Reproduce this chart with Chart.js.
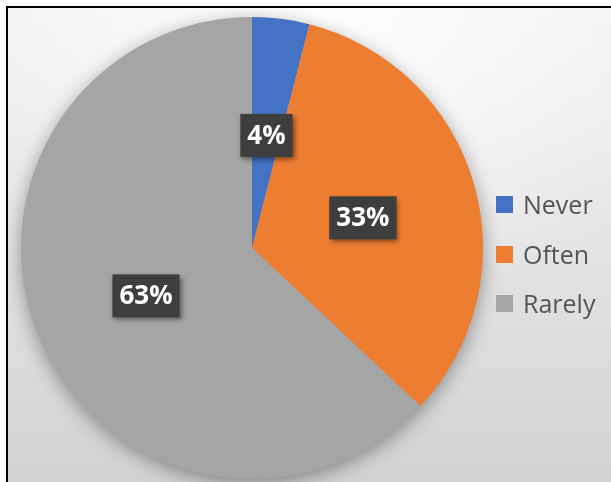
<!DOCTYPE html>
<html>
<head>
<meta charset="utf-8">
<script src="https://cdn.jsdelivr.net/npm/chart.js@4"></script>
<style>
  html, body { margin: 0; padding: 0; }
  body { width: 611px; height: 482px; overflow: hidden; background: #fff; position: relative; }
  .frame {
    position: absolute; left: 6px; top: 6px; right: -4px; bottom: -4px;
    border-left: 2px solid #000; border-top: 2px solid #000;
    background:
      radial-gradient(ellipse 70% 60% at 52% 2%, rgba(255,255,255,0.95) 0%, rgba(255,255,255,0) 100%),
      linear-gradient(#f0f0f0 0%, #e4e4e4 50%, #d2d2d2 100%);
  }
  #wrap { position: absolute; left: 0; top: 0; width: 611px; height: 482px; }
  #legend { position: absolute; left: 496px; top: 0; font-family: "Open Sans", sans-serif; }
  #legend .item { position: absolute; left: 0; height: 30px; display: flex; align-items: center; white-space: nowrap; }
  #legend .box { width: 17px; height: 17px; margin-right: 10px; }
  #legend .txt { font-size: 25px; color: #555555; line-height: 30px; }
</style>
</head>
<body>
<div class="frame"></div>
<div id="wrap"><canvas id="pieChart" width="611" height="482"></canvas></div>
<div id="legend"></div>

<script>
// --- DATA --- //
const categories = ["Never", "Often", "Rarely"];
const shares = [4, 33, 63];
const sliceColors = ["#4472C4", "#ED7D31", "#A5A5A5"];

// soft shadow under the whole pie
const pieShadow = {
  id: "pieShadow",
  beforeDatasetsDraw(chart) {
    const arc = chart.getDatasetMeta(0).data[0];
    if (!arc) return;
    const ctx = chart.ctx;
    ctx.save();
    ctx.shadowColor = "rgba(0,0,0,0.4)";
    ctx.shadowBlur = 20;
    ctx.shadowOffsetY = 5;
    ctx.fillStyle = "#a5a5a5";
    ctx.beginPath();
    ctx.arc(arc.x, arc.y, arc.outerRadius - 1, 0, Math.PI * 2);
    ctx.fill();
    ctx.restore();
  }
};

// dark value boxes in the middle of each slice
const valueBoxes = {
  id: "valueBoxes",
  afterDatasetsDraw(chart) {
    const ctx = chart.ctx;
    const values = chart.data.datasets[0].data;
    chart.getDatasetMeta(0).data.forEach((arc, i) => {
      const pos = arc.tooltipPosition();
      const text = values[i] + "%";
      ctx.save();
      ctx.font = "bold 26px 'Open Sans', sans-serif";
      const w = ctx.measureText(text).width + 14;
      const h = 43;
      ctx.shadowColor = "rgba(0,0,0,0.45)";
      ctx.shadowBlur = 5;
      ctx.shadowOffsetX = 2;
      ctx.shadowOffsetY = 3;
      ctx.fillStyle = "#3e3e3e";
      ctx.fillRect(pos.x - w / 2, pos.y - h / 2 + 2, w, h);
      ctx.shadowColor = "transparent";
      ctx.fillStyle = "#ffffff";
      ctx.textAlign = "center";
      ctx.textBaseline = "middle";
      ctx.fillText(text, pos.x, pos.y + 3);
      ctx.restore();
    });
  }
};

const chart = new Chart(document.getElementById("pieChart"), {
  type: "pie",
  data: {
    labels: categories,
    datasets: [{ data: shares, backgroundColor: sliceColors, borderWidth: 0 }]
  },
  options: {
    responsive: false,
    animation: false,
    layout: { padding: { left: 21, top: 17, right: 128, bottom: 3 } },
    plugins: { legend: { display: false }, tooltip: { enabled: false } }
  },
  plugins: [pieShadow, valueBoxes]
});

// --- LEGEND --- //
const legendEl = document.getElementById("legend");
const rowCenters = [204, 254, 303];
chart.options.plugins.legend.labels.generateLabels(chart).forEach((item, i) => {
  const row = document.createElement("div");
  row.className = "item";
  row.style.top = (rowCenters[i] - 15) + "px";
  row.innerHTML = `<span class="box" style="background:${item.fillStyle}"></span><span class="txt">${item.text}</span>`;
  legendEl.appendChild(row);
});
</script>
</body>
</html>
